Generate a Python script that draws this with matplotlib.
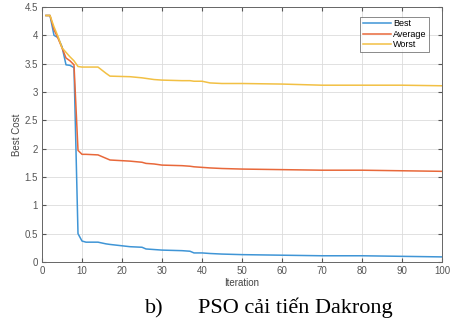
import matplotlib
matplotlib.use("Agg")
import matplotlib.pyplot as plt

# Iteration values
iters = [1, 2, 3, 4, 5, 6, 7, 8, 9, 10, 11, 14, 16, 17, 22, 25, 26, 28, 30, 35,
         37, 38, 40, 42, 45, 50, 60, 70, 80, 90, 100]
best = [4.35, 4.35, 4.00, 3.96, 3.80, 3.48, 3.47, 3.43, 0.50, 0.37, 0.35, 0.35,
        0.32, 0.31, 0.27, 0.26, 0.23, 0.22, 0.21, 0.20, 0.19, 0.16, 0.16, 0.15,
        0.14, 0.13, 0.12, 0.11, 0.11, 0.10, 0.09]
average = [4.35, 4.35, 4.10, 3.95, 3.78, 3.60, 3.55, 3.48, 1.97, 1.90, 1.90, 1.89,
           1.83, 1.80, 1.78, 1.76, 1.74, 1.73, 1.71, 1.70, 1.69, 1.68, 1.67, 1.66,
           1.65, 1.64, 1.63, 1.62, 1.62, 1.61, 1.60]
worst = [4.35, 4.35, 4.15, 3.98, 3.78, 3.70, 3.62, 3.55, 3.45, 3.44, 3.44, 3.44,
         3.33, 3.28, 3.27, 3.25, 3.24, 3.22, 3.21, 3.20, 3.20, 3.19, 3.19, 3.16,
         3.15, 3.15, 3.14, 3.12, 3.12, 3.12, 3.11]

series_names = ["Best", "Average", "Worst"]
colors = ["#3f95d6", "#e8683a", "#f2c044"]
caption_label = "b)"
caption_text = "PSO cải tiến Dakrong"

plt.rcParams["font.family"] = ["Liberation Sans", "DejaVu Sans"]

fig = plt.figure(figsize=(4.51, 3.25), dpi=100)
ax = fig.add_axes([42 / 451, 1 - 262 / 325, 400 / 451, 255 / 325])

for y, c, n in zip([best, average, worst], colors, series_names):
    ax.plot(iters, y, color=c, linewidth=1.1, label=n)

ax.set_xlim(0, 100)
ax.set_ylim(0, 4.5)
ax.set_xticks(range(0, 101, 10))
ax.set_yticks([0, 0.5, 1, 1.5, 2, 2.5, 3, 3.5, 4, 4.5])
ax.set_yticklabels(["0", "0.5", "1", "1.5", "2", "2.5", "3", "3.5", "4", "4.5"])
ax.grid(True, color="#dcdcdc", linewidth=0.6)
ax.tick_params(direction="in", length=3, labelsize=7, colors="#555555",
               top=True, right=True, pad=3)
for s in ax.spines.values():
    s.set_color("#666666")
    s.set_linewidth(0.7)
ax.set_xlabel("Iteration", fontsize=7, color="#444444", labelpad=1)
ax.set_ylabel("Best Cost", fontsize=7, color="#444444", labelpad=2)

leg = ax.legend(loc="upper right", fontsize=6.5, frameon=True, fancybox=False,
                handlelength=3.2, handletextpad=0.2, borderpad=0.3,
                labelspacing=0.15, bbox_to_anchor=(0.98, 0.98))
leg.get_frame().set_edgecolor("#555555")
leg.get_frame().set_linewidth(0.6)

serif = ["Liberation Serif", "DejaVu Serif"]
fig.text(145 / 451, 1 - 313 / 325, caption_label, ha="left", va="baseline",
         fontsize=16, family=serif)
fig.text(198 / 451, 1 - 313 / 325, caption_text, ha="left", va="baseline",
         fontsize=16, family=serif)

fig.savefig("out.png", dpi=100)
